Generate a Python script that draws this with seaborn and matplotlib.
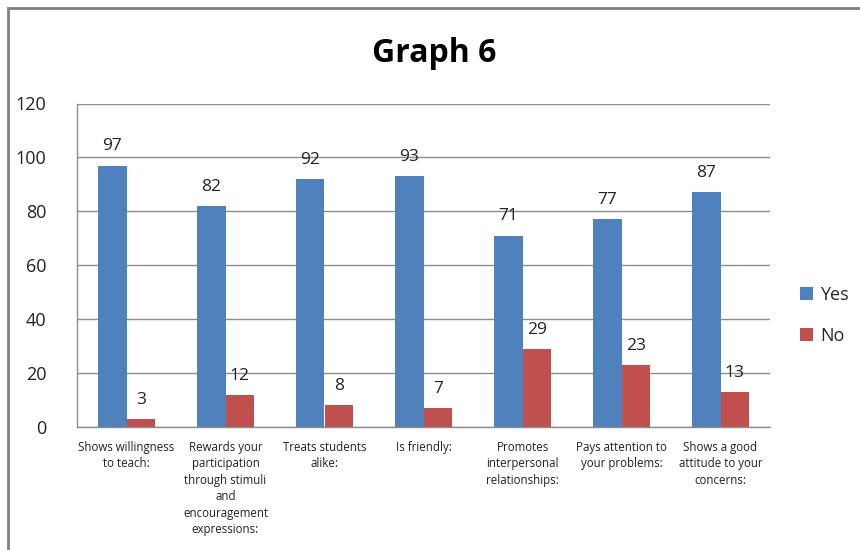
import matplotlib
matplotlib.use("Agg")
import matplotlib.pyplot as plt
import seaborn as sns
import pandas as pd
from matplotlib.patches import Rectangle

categories = [
    "Shows willingness\nto teach:",
    "Rewards your\nparticipation\nthrough stimuli\nand\nencouragement\nexpressions:",
    "Treats students\nalike:",
    "Is friendly:",
    "Promotes\ninterpersonal\nrelationships:",
    "Pays attention to\nyour problems:",
    "Shows a good\nattitude to your\nconcerns:",
]
yes_values = [97, 82, 92, 93, 71, 77, 87]
no_values = [3, 12, 8, 7, 29, 23, 13]
series_names = ["Yes", "No"]
y_ticks = [0, 20, 40, 60, 80, 100, 120]

df = pd.DataFrame({
    "category": categories * 2,
    "value": yes_values + no_values,
    "series": [series_names[0]] * len(categories) + [series_names[1]] * len(categories),
})

sns.set_theme(style="white")
plt.rcParams["font.family"] = ["Open Sans", "DejaVu Sans"]

fig = plt.figure(figsize=(8.6, 5.5), dpi=100)
ax = fig.add_axes([77 / 860, 1 - 427 / 550, (770 - 77) / 860, (427 - 103.5) / 550])

palette = {"Yes": "#4F81BD", "No": "#C0504D"}
sns.barplot(data=df, x="category", y="value", hue="series", palette=palette,
            width=0.58, ax=ax, saturation=1, legend=True, linewidth=0,
            edgecolor="none")

for container in ax.containers:
    ax.bar_label(container, padding=8, fontsize=12.5, color="#222222")

ax.set_ylim(0, 120)
ax.set_yticks(y_ticks)
ax.set_yticklabels([str(t) for t in y_ticks], fontsize=13, color="#222222")
ax.set_xlim(-0.5, len(categories) - 0.5)
ax.set_xticks(range(len(categories)))
ax.set_xticklabels(categories, fontsize=8.3, color="#222222", linespacing=1.35,
                   va="top")
ax.tick_params(axis="x", length=0, pad=10)
ax.tick_params(axis="y", length=0, pad=22)
ax.set_xlabel("")
ax.set_ylabel("")
ax.yaxis.grid(True, color="#8c8c8c", linewidth=1.0)
ax.set_axisbelow(True)
for side in ["top", "right"]:
    ax.spines[side].set_visible(False)
ax.spines["left"].set_color("#8c8c8c")
ax.spines["bottom"].set_color("#8c8c8c")
ax.spines["left"].set_linewidth(1.0)
ax.spines["bottom"].set_linewidth(1.0)

leg = ax.legend(loc="center left", bbox_to_anchor=(1.02, 0.345), frameon=False,
                fontsize=13, handlelength=0.7, handleheight=0.7, handletextpad=0.4,
                labelspacing=1.3)

fig.text(0.5 + 4 / 860, 1 - 54 / 550, "Graph 6", ha="center", va="center",
         fontsize=23, fontweight="bold", color="#000000")

fig.patches.append(Rectangle((8 / 860, -0.1), 1.2, 1 - 8 / 550 + 0.1,
                             transform=fig.transFigure, fill=False,
                             edgecolor="#7f7f7f", linewidth=2.0))

fig.savefig("out.png", dpi=100)
